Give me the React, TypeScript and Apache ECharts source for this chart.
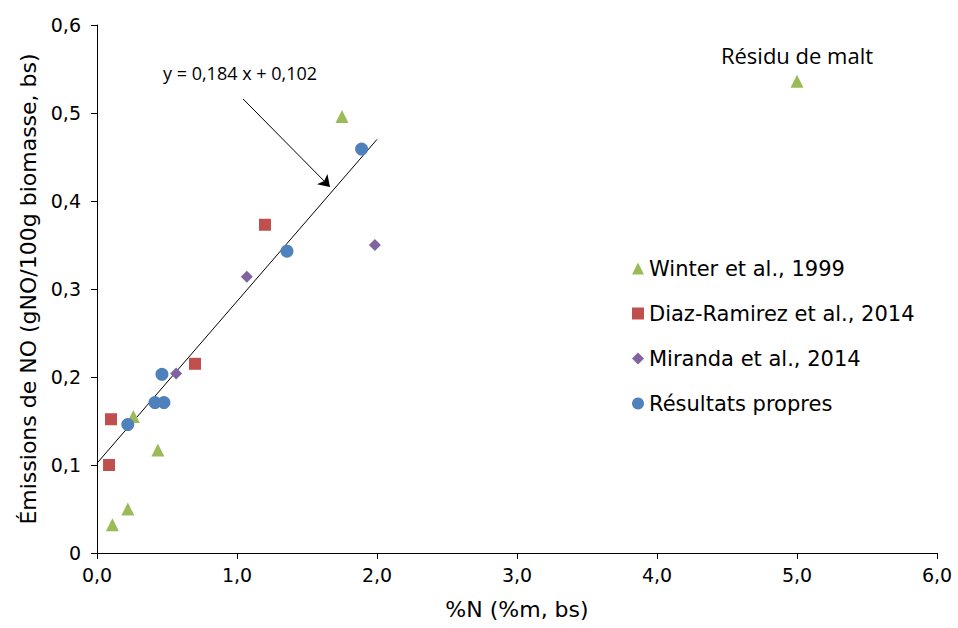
import React, { useEffect, useRef } from "react";
import * as echarts from "echarts";

const winter: [number, number][] = [
  [0.11, 0.032], [0.22, 0.05], [0.26, 0.155], [0.435, 0.117], [1.75, 0.496],
];
const malt: [number, number] = [5.0, 0.536];
const diaz: [number, number][] = [
  [0.086, 0.1], [0.1, 0.152], [0.7, 0.215], [1.2, 0.373],
];
const miranda: [number, number][] = [
  [0.565, 0.204], [1.07, 0.314], [1.985, 0.35],
];
const propres: [number, number][] = [
  [0.22, 0.146], [0.414, 0.171], [0.478, 0.171], [0.464, 0.203], [1.357, 0.343], [1.89, 0.459],
];
const slope = 0.184;
const intercept = 0.102;
const trendX = [0, 2.0];
const arrowFrom: [number, number] = [1.043, 0.516];
const arrowTo: [number, number] = [1.664, 0.416];

const fmt = (v: number) => (v === 0 ? "0" : v.toFixed(1).replace(".", ","));

export default function App() {
  const ref = useRef<HTMLDivElement>(null);
  useEffect(() => {
    const chart = echarts.init(ref.current!, null, { renderer: "svg" });
    const font = "'DejaVu Sans', 'Liberation Sans', sans-serif";
    const font2 = "'Open Sans', 'DejaVu Sans', sans-serif";
    chart.setOption({
      animation: false,
      grid: { left: 97, right: 21, top: 25, bottom: 75 },
      xAxis: {
        type: "value", min: 0, max: 6, interval: 1,
        name: "%N (%m, bs)", nameLocation: "middle", nameGap: 45,
        nameTextStyle: { fontFamily: font, fontSize: 22, color: "#000" },
        axisLine: { lineStyle: { color: "#000", width: 1 } },
        axisTick: { show: true, length: 6, lineStyle: { color: "#000" } },
        axisLabel: { fontFamily: font, fontSize: 19, color: "#000", margin: 12, formatter: (v: number) => (v === 0 ? "0,0" : fmt(v)) },
        splitLine: { show: false },
      },
      yAxis: {
        type: "value", min: 0, max: 0.6, interval: 0.1,
        name: "Émissions de NO (gNO/100g biomasse, bs)", nameLocation: "middle", nameGap: 55,
        nameTextStyle: { fontFamily: font, fontSize: 22, color: "#000" },
        axisLine: { show: true, lineStyle: { color: "#000", width: 1 } },
        axisTick: { show: true, length: 6, lineStyle: { color: "#000" } },
        axisLabel: { fontFamily: font, fontSize: 19, color: "#000", margin: 16, formatter: fmt },
        splitLine: { show: false },
      },
      legend: {
        orient: "vertical", left: 627, top: 253, itemGap: 24, itemWidth: 12, itemHeight: 12,
        textStyle: { fontFamily: font, fontSize: 21, color: "#000" },
        data: [
          { name: "Winter et al., 1999", icon: "triangle" },
          { name: "Diaz-Ramirez et al., 2014", icon: "rect" },
          { name: "Miranda et al., 2014", icon: "diamond" },
          { name: "Résultats propres", icon: "circle" },
        ],
      },
      graphic: [
        {
          type: "text", left: 163, top: 64,
          style: { text: "y = 0,184 x + 0,102", fontFamily: font2, fontSize: 18, fill: "#000" },
        },
      ],
      series: [
        {
          name: "trend", type: "line", data: trendX.map((x) => [x, slope * x + intercept]),
          showSymbol: false, symbol: "none", lineStyle: { color: "#000", width: 1 }, silent: true, z: 1,
          markLine: {
            silent: true, symbol: ["none", "arrow"], symbolSize: 11,
            lineStyle: { color: "#000", width: 1, type: "solid" }, label: { show: false },
            data: [[{ coord: arrowFrom }, { coord: arrowTo }]],
          },
        },
        {
          name: "Winter et al., 1999", type: "scatter", symbol: "triangle", symbolSize: 13,
          itemStyle: { color: "#9BBB59", opacity: 1 }, z: 3,
          data: [
            ...winter,
            {
              value: malt,
              label: {
                show: true, position: "top", distance: 9, formatter: "Résidu de malt",
                fontFamily: font2, fontSize: 22, color: "#000", opacity: 1,
              },
            },
          ],
        },
        { name: "Diaz-Ramirez et al., 2014", type: "scatter", symbol: "rect", symbolSize: 12, itemStyle: { color: "#C0504D", opacity: 1 }, z: 3, data: diaz },
        { name: "Miranda et al., 2014", type: "scatter", symbol: "diamond", symbolSize: 12, itemStyle: { color: "#8064A2", opacity: 1 }, z: 3, data: miranda },
        { name: "Résultats propres", type: "scatter", symbol: "circle", symbolSize: 13, itemStyle: { color: "#4F81BD", opacity: 1 }, z: 3, data: propres },
      ],
    });
    return () => chart.dispose();
  }, []);
  return <div ref={ref} style={{ position: "absolute", left: 0, top: 0, width: 958, height: 628 }} />;
}
